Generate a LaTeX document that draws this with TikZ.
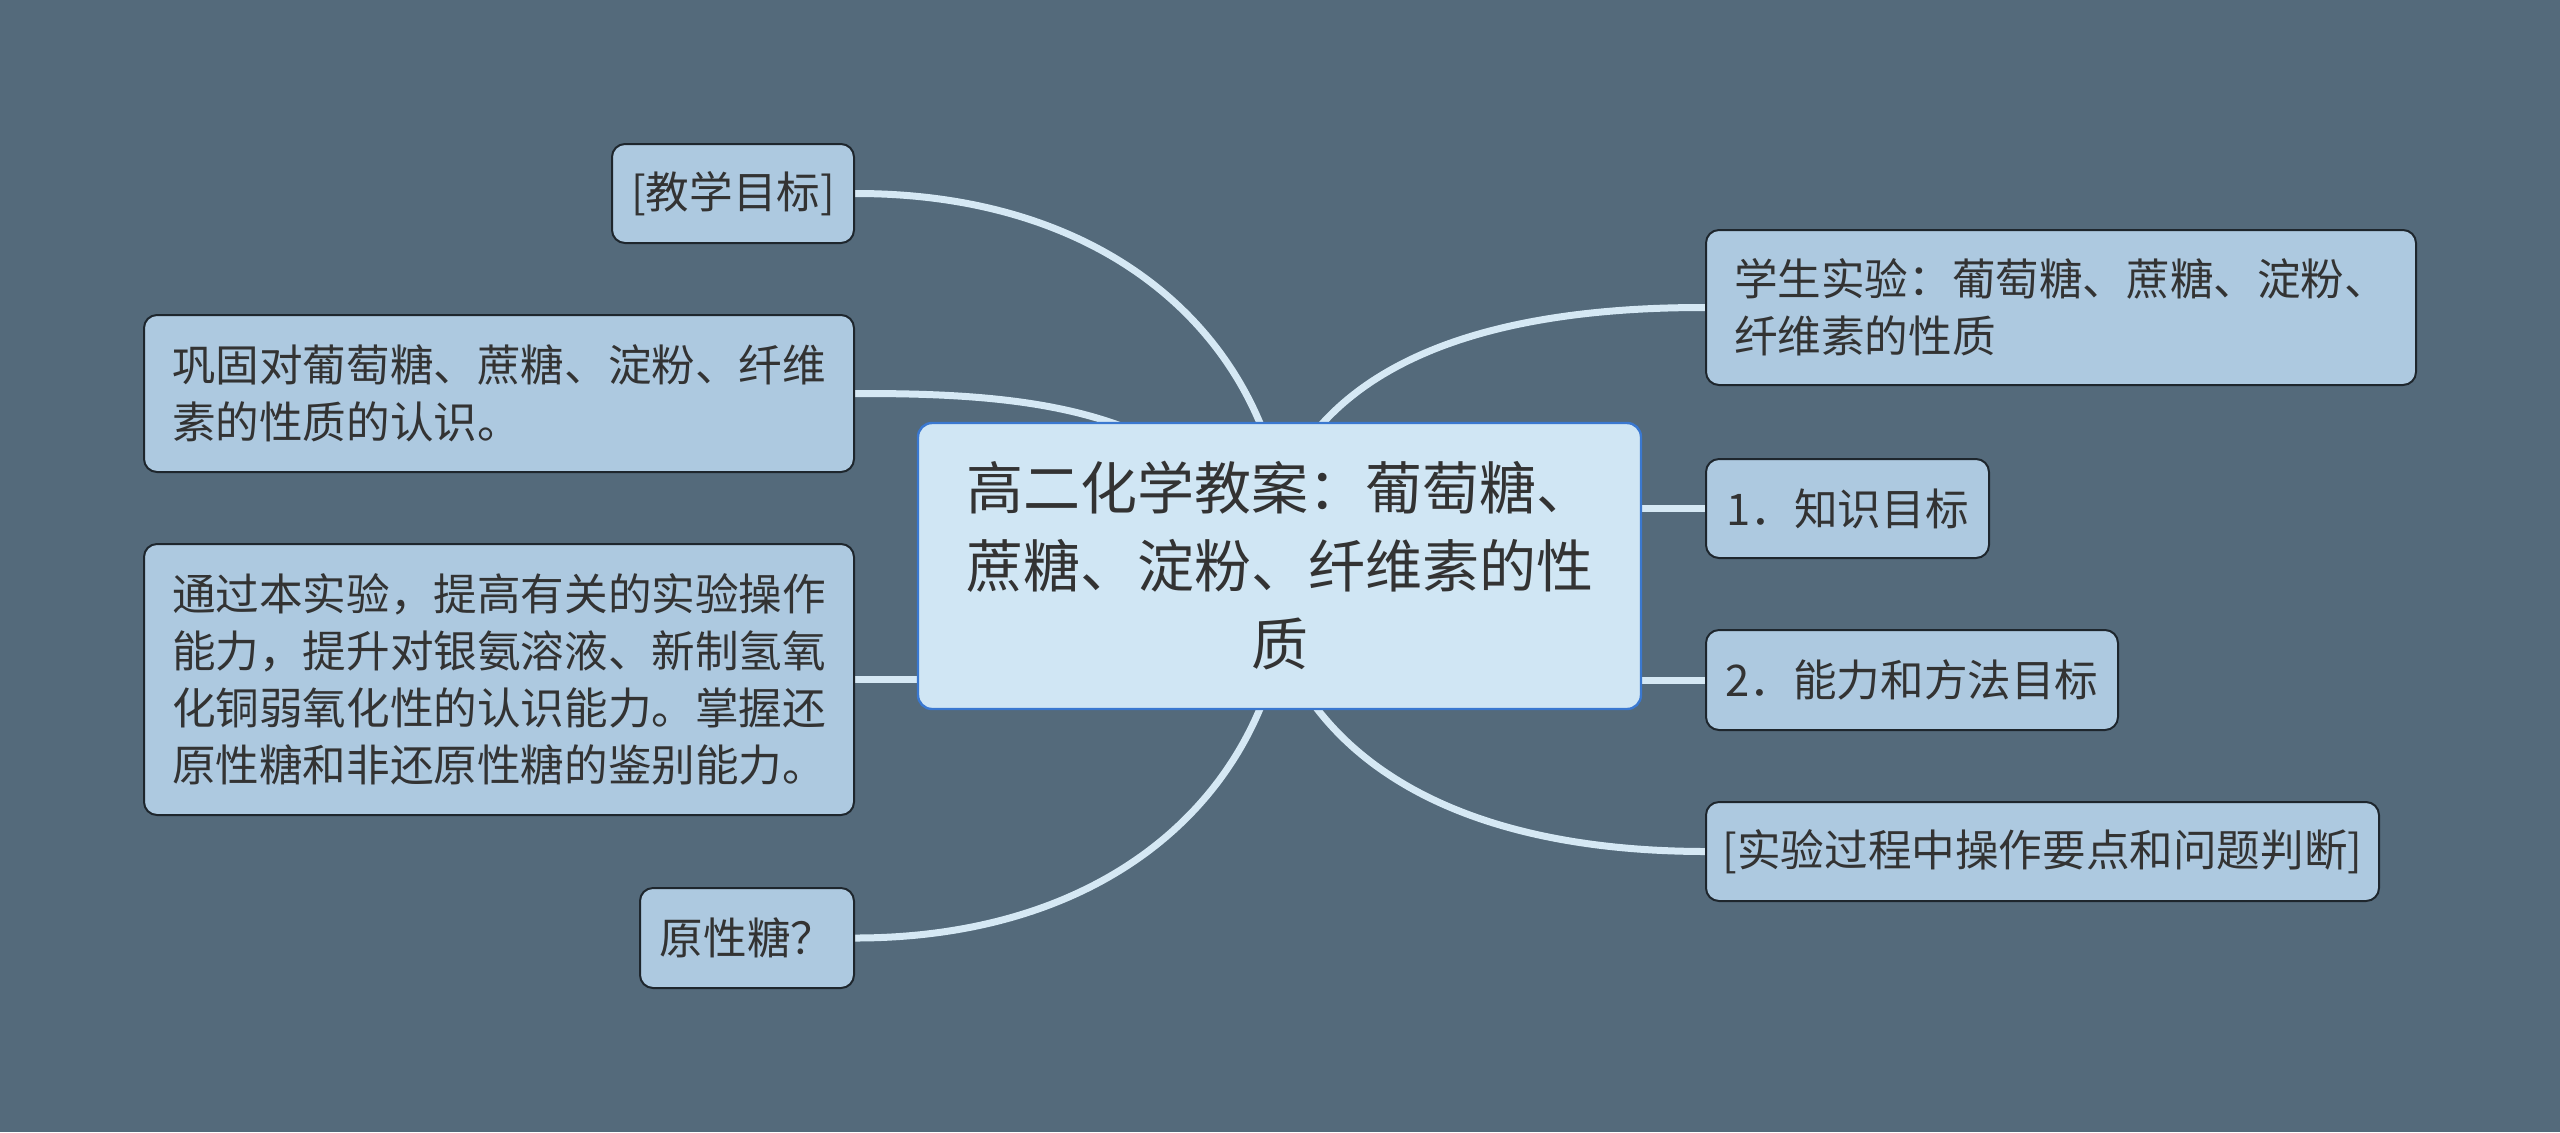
\documentclass[tikz,border=0pt]{standalone}
\usepackage{fontspec}
\setmainfont{Noto Sans CJK SC}
\definecolor{bgc}{HTML}{546A7B}
\definecolor{edgec}{HTML}{D5E8F4}
\definecolor{rootfill}{HTML}{D0E6F4}
\definecolor{rootdraw}{HTML}{3A78D0}
\definecolor{leaffill}{HTML}{ADC9E0}
\definecolor{leafdraw}{HTML}{1E262D}
\definecolor{txt}{HTML}{333333}
\pgfdeclarelayer{bgl}
\pgfdeclarelayer{edgel}
\pgfsetlayers{bgl,edgel,main}
\tikzset{
  rootbox/.style={draw=rootdraw, line width=1.2pt, fill=rootfill, rounded corners=7pt,
    text=txt, font=\fontsize{28.5pt}{39pt}\selectfont, align=center, inner sep=0pt},
  leafbox/.style={draw=leafdraw, line width=1pt, fill=leaffill, rounded corners=6.5pt,
    text=txt, font=\fontsize{21.8pt}{28.5pt}\selectfont, align=left, inner sep=0pt},
  conn/.style={draw=edgec, line width=3.5pt}
}
\begin{document}
\begin{tikzpicture}[x=0.5pt,y=-0.5pt]
\begin{pgfonlayer}{bgl}
\fill[bgc] (0,0) rectangle (2560,1132);
\end{pgfonlayer}
\useasboundingbox (0,0) rectangle (2560,1132);

\node[rootbox, minimum width=361.5pt, minimum height=143pt] (root) at (1279.5,566)
  {高二化学教案：葡萄糖、\\蔗糖、淀粉、纤维素的性\\质};

\node[leafbox, minimum width=121pt, minimum height=49.5pt] (l1) at (733,193.5) {[教学目标]};
\node[leafbox, minimum width=355pt, minimum height=78.5pt] (l2) at (499,393.5)
  {巩固对葡萄糖、蔗糖、淀粉、纤维\\素的性质的认识。};
\node[leafbox, minimum width=355pt, minimum height=135.5pt] (l3) at (499,679.5)
  {通过本实验，提高有关的实验操作\\能力，提升对银氨溶液、新制氢氧\\化铜弱氧化性的认识能力。掌握还\\原性糖和非还原性糖的鉴别能力。};
\node[leafbox, minimum width=107pt, minimum height=50pt] (l4) at (747,938) {原性糖？};

\node[leafbox, minimum width=355pt, minimum height=77.5pt] (r1) at (2061,307.5)
  {学生实验：葡萄糖、蔗糖、淀粉、\\纤维素的性质};
\node[leafbox, minimum width=141.5pt, minimum height=49.5pt] (r2) at (1847.5,508.5) {1．知识目标};
\node[leafbox, minimum width=206pt, minimum height=50pt] (r3) at (1912,680) {2．能力和方法目标};
\node[leafbox, minimum width=336.5pt, minimum height=49.5pt] (r4) at (2042.5,851.5) {[实验过程中操作要点和问题判断]};

\coordinate (c) at (1279.5,566);
\begin{pgfonlayer}{edgel}
\draw[conn] (l1.east) .. controls (1130,193) and (1288,360) .. (1288,566);
\draw[conn] (l2.east) .. controls (1040,393) and (1200,410) .. (c);
\draw[conn] (l3.east) -- (l3.east -| c);
\draw[conn] (l4.east) .. controls (1130,938) and (1288,772) .. (1288,566);
\draw[conn] (r1.west) .. controls (1420,307) and (1280,400) .. (1260,566);
\draw[conn] (r2.west) -- (r2.west -| c);
\draw[conn] (r3.west) -- (r3.west -| c);
\draw[conn] (r4.west) .. controls (1420,851) and (1280,732) .. (1260,566);
\end{pgfonlayer}
\end{tikzpicture}
\end{document}
